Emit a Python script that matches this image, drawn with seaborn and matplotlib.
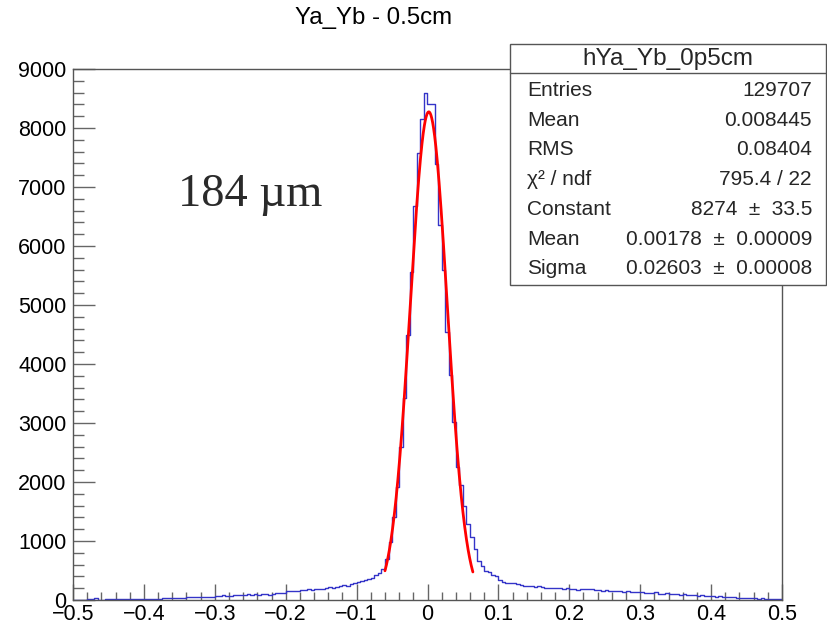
import numpy as np
import pandas as pd
import matplotlib
matplotlib.use("Agg")
import matplotlib.pyplot as plt
from matplotlib.patches import Rectangle
from matplotlib.lines import Line2D
from matplotlib.ticker import MultipleLocator
import seaborn as sns

sns.set_theme(style="white")
plt.rcParams['font.family'] = ['Liberation Sans', 'DejaVu Sans']

# ---------------- data ----------------
x_min, x_max = -0.5, 0.5

# bins of width 0.005 from -0.5 to -0.07
counts_left = [5, 6, 8, 6, 10, 25, 28, 8, 7, 9,
               12, 10, 14, 12, 15, 14, 20, 18, 20, 22,
               20, 24, 22, 25, 24, 30, 26, 28, 32, 30,
               35, 40, 52, 56, 48, 50, 52, 48, 55, 58,
               75, 72, 78, 74, 76, 80, 78, 84, 90, 94,
               92, 96, 90, 100, 94, 88, 110, 115, 112, 120,
               145, 150, 155, 150, 165, 170, 180, 175, 185, 182,
               190, 200, 215, 210, 225, 235, 250, 245, 270, 285,
               310, 330, 345, 355, 380, 420]
# bins from -0.07 to 0.07
counts_core = [460, 520, 700, 980, 1400, 1920, 2600, 3420, 4500, 5560,
               6680, 7570, 8150, 8600, 8400, 8400, 7390, 6360, 5600, 4540,
               3810, 3020, 2250, 1950, 1600, 1280, 1060, 860]
# bins from 0.07 to 0.5
counts_right = [660, 570, 500, 470, 430, 410, 340, 300, 295, 290,
                280, 270, 250, 245, 240, 235, 225, 230, 215, 210,
                205, 200, 205, 195, 190, 200, 185, 180, 175, 180,
                185, 190, 185, 175, 165, 160, 165, 150, 155, 145,
                150, 140, 145, 135, 140, 130, 135, 125, 115, 120,
                130, 110, 105, 115, 100, 95, 98, 90, 95, 85,
                88, 80, 75, 78, 70, 72, 62, 58, 60, 55,
                52, 50, 45, 40, 42, 35, 30, 32, 28, 25,
                26, 22, 20, 18, 20, 15]

# Gaussian fit parameters (from the stats box)
fit_const, fit_mean, fit_sigma = 8274.0, 0.00178, 0.02603
fit_lo, fit_hi = -0.06, 0.064

title = "Ya_Yb - 0.5cm"
stats_name = "hYa_Yb_0p5cm"
stats_labels = ["Entries", "Mean", "RMS", "χ² / ndf", "Constant", "Mean", "Sigma"]
stats_values = ["129707", "0.008445", "0.08404", "795.4 / 22",
                "8274 ± 33.5", "0.00178 ± 0.00009", "0.02603 ± 0.00008"]
annotation = "184 µm"

# ---------------- figure ----------------
W, H = 828, 625
fig = plt.figure(figsize=(W / 100, H / 100), dpi=100)

def fx(px):
    return px / W

def fy(py):
    return 1 - py / H

ax_l, ax_r, ax_t, ax_b = 73, 782, 69, 600
ax = fig.add_axes([fx(ax_l), fy(ax_b), (ax_r - ax_l) / W, (ax_b - ax_t) / H])

counts = counts_left + counts_core + counts_right
nbins = len(counts)
width = (x_max - x_min) / nbins
centers = x_min + width * (np.arange(nbins) + 0.5)
df = pd.DataFrame({"dy": centers, "n": counts})

sns.histplot(data=df, x="dy", weights="n", bins=nbins, binrange=(x_min, x_max),
             element="step", fill=False, color="#3434c8", linewidth=1.0, ax=ax)

xf = np.linspace(fit_lo, fit_hi, 300)
yf = fit_const * np.exp(-0.5 * ((xf - fit_mean) / fit_sigma) ** 2)
ax.plot(xf, yf, color="#ff0000", linewidth=2.0, zorder=5)

ax.set_xlim(x_min, x_max)
ax.set_ylim(0, 9000)
ax.set_xlabel("")
ax.set_ylabel("")
ax.xaxis.set_major_locator(MultipleLocator(0.1))
ax.xaxis.set_minor_locator(MultipleLocator(0.02))
ax.yaxis.set_major_locator(MultipleLocator(1000))
ax.yaxis.set_minor_locator(MultipleLocator(200))
ax.xaxis.set_major_formatter(matplotlib.ticker.FuncFormatter(
    lambda v, p: ("0" if abs(v) < 1e-9 else f"{v:.1f}").replace("-", "\u2212")))
ax.tick_params(axis="x", which="both", bottom=True, top=False)
ax.tick_params(axis="y", which="both", left=True, right=False)
ax.tick_params(axis="x", which="major", direction="in", length=11.5, width=1.0,
               color="#666666", labelsize=15.5, pad=3, labelcolor="black")
ax.tick_params(axis="x", which="minor", direction="in", length=5.8, width=1.0,
               color="#666666")
ax.tick_params(axis="y", which="major", direction="in", length=16, width=1.0,
               color="#666666", labelsize=15.5, pad=4.5, labelcolor="black")
ax.tick_params(axis="y", which="minor", direction="in", length=7.7, width=1.0,
               color="#666666")
for s in ax.spines.values():
    s.set_visible(True)
    s.set_color("#555555")
    s.set_linewidth(1.0)

# title
fig.text(fx(374), fy(18), title, ha="center", va="center", fontsize=17.3,
         color="black")

# annotation
fig.text(fx(178), fy(206), annotation, ha="left", va="baseline", fontsize=33.5,
         family=["Liberation Serif", "DejaVu Serif"], color="#2a2a2a")

# stats box
bx0, by0, bx1, by1 = 510, 44, 826, 285
box = Rectangle((fx(bx0), fy(by1)), (bx1 - bx0) / W, (by1 - by0) / H,
                transform=fig.transFigure, facecolor="white",
                edgecolor="#555555", linewidth=1.0, zorder=10)
fig.add_artist(box)
fig.add_artist(Line2D([fx(bx0), fx(bx1)], [fy(73), fy(73)],
                      transform=fig.transFigure, color="#555555",
                      linewidth=1.0, zorder=11))
fig.text(fx((bx0 + bx1) / 2), fy(58.5), stats_name, ha="center", va="center",
         fontsize=17.5, zorder=12)
for k, (lab, val) in enumerate(zip(stats_labels, stats_values)):
    yy = 90.5 + 29.7 * k
    fig.text(fx(527), fy(yy), lab, ha="left", va="center", fontsize=15, zorder=12)
    fig.text(fx(812), fy(yy), val.replace(" ± ", "  ±  "), ha="right",
             va="center", fontsize=15, zorder=12)

fig.savefig("out.png", dpi=100)
